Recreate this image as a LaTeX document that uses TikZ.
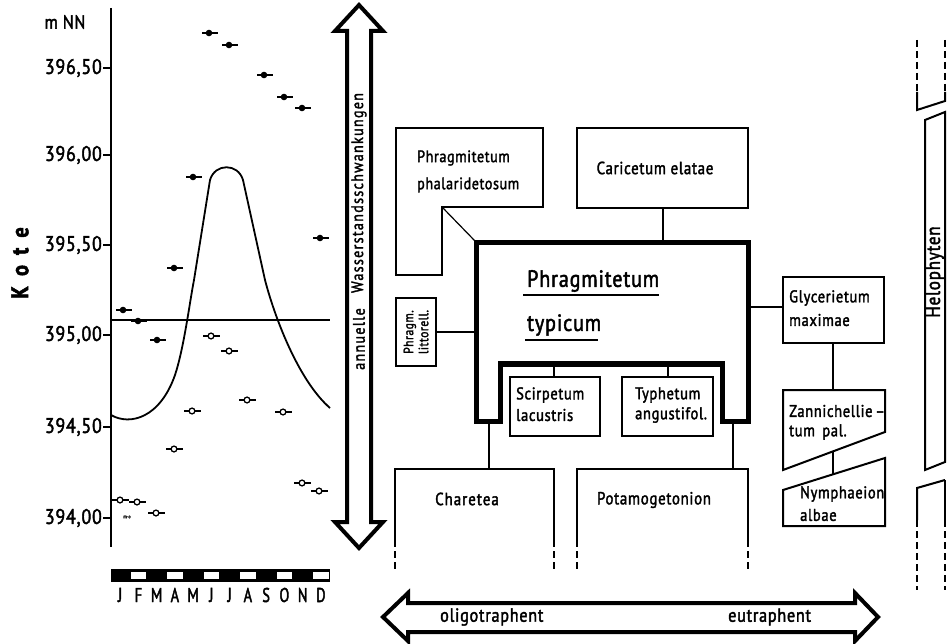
\documentclass[tikz,border=0pt]{standalone}
\usepackage{fontspec}
\setmainfont{PT Sans}[FakeStretch=0.85,LetterSpace=4,FakeBold=2]
\newfontfamily\narrowfont{PT Sans}[FakeStretch=0.72,FakeBold=2]
\newfontfamily\spacedfont{PT Sans}[FakeStretch=0.85,LetterSpace=8,FakeBold=2]
\begin{document}
\begin{tikzpicture}[x=1pt,y=-1pt,line join=miter,
  thinbox/.style={line width=2pt},
  thickbox/.style={line width=5pt},
  conn/.style={line width=1.2pt},
  bigarrow/.style={line width=4pt},
  axlbl/.style={font=\fontsize{21}{22}\selectfont,inner sep=0pt,anchor=east},
  boxtxt/.style={font=\fontsize{17.5}{19}\selectfont,inner sep=0pt},
  smalltxt/.style={font=\fontsize{17}{18}\selectfont,inner sep=0pt},
  bigtxt/.style={font=\fontsize{23.5}{25}\selectfont,inner sep=0pt,anchor=west},
  month/.style={font=\narrowfont\fontsize{20}{20}\selectfont,inner sep=0pt},
  vtxt/.style={font=\spacedfont\fontsize{16.5}{18}\selectfont,inner sep=0pt,rotate=90},
  databar/.style={line width=1.4pt},
]
\useasboundingbox (0,0) rectangle (948,644);

% ---------------- left graph ----------------
\draw[line width=2.6pt] (111,8) -- (111,547);
\foreach \yy in {68,155,245,335,427,518} \draw[line width=2pt] (103,\yy) -- (111,\yy);
\node[axlbl] (l1) at (102,68) {396,50};
\node[axlbl] (l2) at (102,155) {396,00};
\node[axlbl] (l3) at (102,245) {395,50};
\node[axlbl] (l4) at (102,335) {395,00};
\node[axlbl] (l5) at (102,427) {394,50};
\node[axlbl] (l6) at (102,518) {394,00};
\node[font=\fontsize{19}{20}\selectfont,inner sep=0pt] (mnn) at (65,22) {m NN};
\node[font=\bfseries\fontsize{24}{26}\selectfont,inner sep=0pt,rotate=90] (kote) at (20,263) {K\, o\, t\, e};
\node[font=\fontsize{5}{5}\selectfont,inner sep=0pt] (mo) at (127,517) {m\textperiodcentered o};

% mean water level line
\draw[line width=1.5pt] (111,320) -- (330,320);
% curve
\draw[line width=1.8pt] (111,415) .. controls (130,426) and (160,418) .. (175,375)
  .. controls (184,348) and (190,300) .. (194,280) -- (210,180)
  .. controls (215,163) and (238,163) .. (243,180) -- (265,280)
  .. controls (276,322) and (300,382) .. (330,408);

% filled points
\foreach \x/\y in {209/33,229/45,264/75,284/97,302/108,193/177,320/238,174/268,123/310,138/321,157/340}{
  \draw[databar] (\x-7,\y) -- (\x+9,\y);
  \fill (\x,\y) circle[radius=3.3pt];
}
% open points
\foreach \x/\y in {211/336,229/351,247/400,192/411,283/412,174/449,302/483,319/491,120/500,137/502,156/513}{
  \draw[databar] (\x-8,\y) -- (\x+9,\y);
  \filldraw[fill=white,line width=1.3pt] (\x,\y) circle[radius=2.9pt];
}

% month bar
\fill (111,569) rectangle (330,582);
\foreach \k in {2,4,6,8,10,12}
  \fill[white] ({111+(\k-1)*18.25+1.5},572) rectangle ({111+\k*18.25-1.5},578.5);
\foreach \m [count=\i] in {J,F,M,A,M,J,J,A,S,O,N,D}
  \node[month] (mon\i) at ({111+(\i-0.5)*18.25},595) {\m};

% ---------------- vertical double arrow ----------------
\draw[bigarrow] (359,5) -- (383,31) -- (371,31) -- (371,522) -- (383,522) -- (359,548)
  -- (335,522) -- (347,522) -- (347,31) -- (335,31) -- cycle;
\node[vtxt] (wst) at (359,193) {Wasserstandsschwankungen};
\node[vtxt] (ann) at (359,339) {annuelle};

% ---------------- bottom double arrow ----------------
\draw[bigarrow] (383,617) -- (408,593) -- (408,603) -- (855,603) -- (855,593) -- (878,617)
  -- (855,641) -- (855,632) -- (408,632) -- (408,641) -- cycle;
\node[font=\fontsize{19}{20}\selectfont,inner sep=0pt,anchor=west] (oligo) at (440,617) {oligotraphent};
\node[font=\fontsize{19}{20}\selectfont,inner sep=0pt,anchor=west] (eutra) at (728,617) {eutraphent};

% ---------------- boxes ----------------
% Phragmitetum phalaridetosum (L-shape)
\draw[thinbox] (396,128) -- (543,128) -- (543,207) -- (442,207) -- (442,275) -- (396,275) -- cycle;
\coordinate (pp) at (442,207);
\node[boxtxt,anchor=west,font=\fontsize{16.5}{18}\selectfont] (pp1) at (417,158) {Phragmitetum};
\node[boxtxt,anchor=west,font=\fontsize{16.5}{18}\selectfont] (pp2) at (417,185) {phalaridetosum};

% Caricetum elatae
\draw[thinbox] (577,128) rectangle (748,208);
\coordinate (ce) at (663,208);
\node[boxtxt] (ce1) at (655,168) {Caricetum elatae};

% Phragmitetum typicum (thick)
\draw[thickbox] (476,243) -- (748,243) -- (748,421) -- (722,421) -- (722,364) -- (500,364)
  -- (500,421) -- (476,421) -- cycle;
\coordinate (ptT) at (663,243);
\coordinate (ptL) at (476,332);
\coordinate (ptR) at (748,307);
\coordinate (ptFL) at (489,421);
\coordinate (ptFR) at (733,421);
\coordinate (ptI1) at (554,364);
\coordinate (ptI2) at (668,364);
\coordinate (ptC) at (475,241);
\node[bigtxt] (pt1) at (527,281) {Phragmitetum};
\node[bigtxt] (pt2) at (527,325) {typicum};
\draw[line width=1.8pt] (523,295) -- (659,295);
\draw[line width=1.8pt] (525,340) -- (598,340);

% Phragm. littorell.
\draw[thinbox] (396,298) rectangle (436,366);
\coordinate (plR) at (436,332);
\node[font=\fontsize{13.5}{15}\selectfont,inner sep=0pt,rotate=90,align=center] (pl) at (416,332) {Phragm.\\littorell.};

% Scirpetum / Typhetum
\draw[thinbox] (510,377) rectangle (600,436);
\coordinate (scT) at (554,377);
\node[smalltxt,anchor=west] (sc1) at (516,395) {Scirpetum};
\node[smalltxt,anchor=west] (sc2) at (516,415) {lacustris};
\draw[thinbox] (622,377) rectangle (713,436);
\coordinate (tyT) at (668,377);
\node[smalltxt,anchor=west] (ty1) at (635,395) {Typhetum};
\node[smalltxt,anchor=west] (ty2) at (635,415) {angustifol.};

% Glycerietum maximae
\draw[thinbox] (783,277) rectangle (884,343);
\coordinate (glL) at (783,307);
\coordinate (glB) at (833,343);
\node[smalltxt,anchor=west] (gl1) at (789,298) {Glycerietum};
\node[smalltxt,anchor=west] (gl2) at (789,320) {maximae};

% Zannichellietum pal.
\draw[thinbox] (783,390) -- (885,390) -- (885,432) -- (783,470) -- cycle;
\coordinate (zaT) at (833,390);
\coordinate (zaB) at (833,451);
\node[smalltxt,anchor=west] (za1) at (789,411) {Zannichellie\,--};
\node[smalltxt,anchor=west] (za2) at (789,432) {tum\, pal.};

% Nymphaeion albae
\draw[thinbox] (783,490) -- (885,458) -- (885,526) -- (783,526) -- cycle;
\coordinate (nyT) at (833,474);
\node[smalltxt,anchor=west] (ny1) at (800,494) {Nymphaeion};
\node[smalltxt,anchor=west] (ny2) at (800,515) {albae};

% Charetea
\draw[thinbox] (395,540) -- (395,469) -- (554,469) -- (554,540);
\draw[thinbox,dash pattern=on 7pt off 4pt] (395,540) -- (395,572);
\draw[thinbox,dash pattern=on 7pt off 4pt] (554,540) -- (554,572);
\coordinate (chT) at (489,469);
\node[boxtxt] (ch) at (467,499) {C\kern1pt h\kern1pt a\kern1pt r\kern1pt e\kern1pt t\kern1pt e\kern1pt a};

% Potamogetonion
\draw[thinbox] (577,540) -- (577,469) -- (748,469) -- (748,540);
\draw[thinbox,dash pattern=on 7pt off 4pt] (577,540) -- (577,572);
\draw[thinbox,dash pattern=on 7pt off 4pt] (748,540) -- (748,572);
\coordinate (poT) at (733,469);
\node[boxtxt] (po) at (654,500) {Potamogetonion};

% connectors
\draw[conn] (pp) -- (ptC);
\draw[conn] (ce) -- (ptT);
\draw[conn] (plR) -- (ptL);
\draw[conn] (ptR) -- (glL);
\draw[conn] (glB) -- (zaT);
\draw[conn] (zaB) -- (nyT);
\draw[conn] (ptI1) -- (scT);
\draw[conn] (ptI2) -- (tyT);
\draw[conn] (ptFL) -- (chT);
\draw[conn] (ptFR) -- (poT);

% ---------------- Helophyten band ----------------
\draw[thinbox,dash pattern=on 7pt off 4pt] (917,40) -- (917,92);
\draw[thinbox,dash pattern=on 7pt off 4pt] (945,40) -- (945,92);
\draw[thinbox] (917,92) -- (917,110) -- (945,101) -- (945,92);
\draw[thinbox] (945,112) -- (925,120) -- (925,470) -- (945,462) -- cycle;
\draw[thinbox] (945,480) -- (917,488) -- (917,520);
\draw[thinbox] (945,480) -- (945,520);
\draw[thinbox,dash pattern=on 7pt off 4pt] (917,520) -- (917,590);
\draw[thinbox,dash pattern=on 7pt off 4pt] (945,520) -- (945,590);
\node[font=\fontsize{20}{21}\selectfont,inner sep=0pt,rotate=90] (helo) at (935,272) {Helophyten};
\end{tikzpicture}
\end{document}
